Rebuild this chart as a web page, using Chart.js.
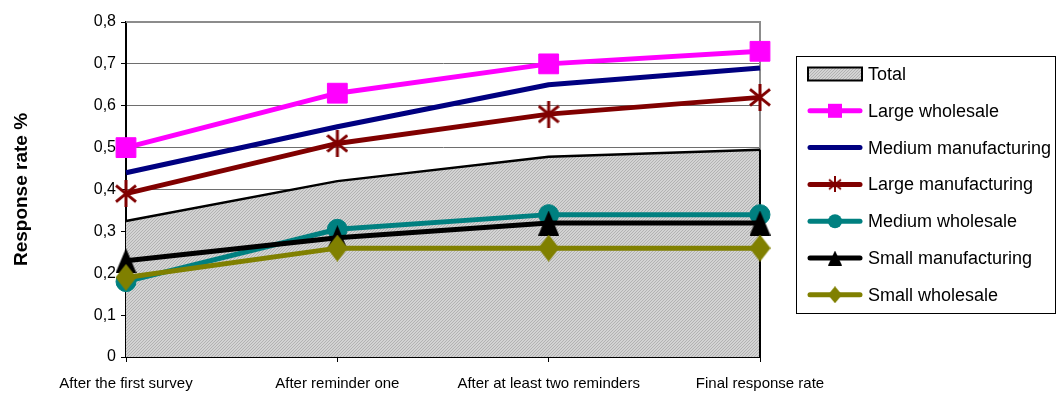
<!DOCTYPE html>
<html>
<head>
<meta charset="utf-8">
<script src="https://cdn.jsdelivr.net/npm/chart.js@4/dist/chart.umd.min.js"></script>
<style>
  html, body { margin: 0; padding: 0; background: #fff; }
  canvas { display: block; }
</style>
</head>
<body>
<canvas id="c" width="1056" height="394"></canvas>
<script>
// Survey stages on the x axis
const categories = ['After the first survey', 'After reminder one', 'After at least two reminders', 'Final response rate'];

// Cumulative response rates per group
const total               = [0.325, 0.42, 0.478, 0.495];
const largeWholesale      = [0.50, 0.63, 0.70, 0.73];
const mediumManufacturing = [0.44, 0.55, 0.65, 0.69];
const largeManufacturing  = [0.39, 0.51, 0.58, 0.62];
const mediumWholesale     = [0.18, 0.305, 0.34, 0.34];
const smallManufacturing  = [0.23, 0.285, 0.32, 0.32];
const smallWholesale      = [0.19, 0.26, 0.26, 0.26];

// Y axis
const yMin = 0, yMax = 0.8, yStep = 0.1;

const FONT = '"Liberation Sans", Arial, sans-serif';

// Fine grey dither used for the Total area
function grayPattern() {
  const c = document.createElement('canvas');
  c.width = 3; c.height = 3;
  const g = c.getContext('2d');
  g.fillStyle = '#d3d3d3';
  g.fillRect(0, 0, 3, 3);
  g.fillStyle = '#b2b2b2';
  for (let y = 0; y < 3; y++) for (let x = 0; x < 3; x++) if ((x + y) % 3 === 0) g.fillRect(x, y, 1, 1);
  return document.getElementById('c').getContext('2d').createPattern(c, 'repeat');
}

// Marker images: asterisk, tall triangle and tall diamond
function markerImage(kind, w, h, color, lw) {
  const c = document.createElement('canvas');
  c.width = w; c.height = h;
  const g = c.getContext('2d');
  g.fillStyle = color; g.strokeStyle = color;
  if (kind === 'asterisk') {
    g.lineWidth = lw || 3;
    g.beginPath();
    g.moveTo(w / 2, 0); g.lineTo(w / 2, h);
    g.moveTo(1, h * 0.2); g.lineTo(w - 1, h * 0.8);
    g.moveTo(1, h * 0.8); g.lineTo(w - 1, h * 0.2);
    g.stroke();
  } else if (kind === 'triangle') {
    g.beginPath();
    g.moveTo(w / 2, 0); g.lineTo(w, h); g.lineTo(0, h); g.closePath();
    g.fill();
  } else if (kind === 'diamond') {
    g.beginPath();
    g.moveTo(w / 2, 0); g.lineTo(w, h / 2); g.lineTo(w / 2, h); g.lineTo(0, h / 2); g.closePath();
    g.fill();
  }
  return c;
}

const COL = {
  largeWholesale: '#ff00ff',
  mediumManufacturing: '#000080',
  largeManufacturing: '#800000',
  mediumWholesale: '#008080',
  smallManufacturing: '#000000',
  smallWholesale: '#808000'
};

const fillPattern = grayPattern();
const starImg = markerImage('asterisk', 22, 27, COL.largeManufacturing, 3);
const triImg = markerImage('triangle', 21, 25, COL.smallManufacturing);
const diaImg = markerImage('diamond', 21, 27, COL.smallWholesale);

// Smaller versions for the legend
const legendMarks = {
  'Large wholesale': { type: 'rect', size: 14 },
  'Medium manufacturing': null,
  'Large manufacturing': { type: 'img', img: markerImage('asterisk', 14, 16, COL.largeManufacturing, 2) },
  'Medium wholesale': { type: 'circle', r: 7 },
  'Small manufacturing': { type: 'img', img: markerImage('triangle', 14, 15, COL.smallManufacturing) },
  'Small wholesale': { type: 'img', img: markerImage('diamond', 14, 17, COL.smallWholesale) }
};

function line(label, data, color, extra, order) {
  return Object.assign({
    label, data, borderColor: color, backgroundColor: color,
    borderWidth: 5, pointBorderWidth: 1, pointBorderColor: color, pointBackgroundColor: color,
    fill: false, tension: 0, order
  }, extra);
}

const datasets = [
  {
    label: 'Total', data: total, borderColor: '#000', borderWidth: 2.5,
    backgroundColor: fillPattern, fill: 'origin', pointRadius: 0, tension: 0, order: 10
  },
  line('Large wholesale', largeWholesale, COL.largeWholesale, { pointStyle: 'rect', pointRadius: 14 }, 6),
  line('Medium manufacturing', mediumManufacturing, COL.mediumManufacturing, { pointRadius: 0 }, 5),
  line('Large manufacturing', largeManufacturing, COL.largeManufacturing, { pointStyle: starImg, pointRadius: 12 }, 4),
  line('Medium wholesale', mediumWholesale, COL.mediumWholesale, { pointStyle: 'circle', pointRadius: 10 }, 3),
  line('Small manufacturing', smallManufacturing, COL.smallManufacturing, { pointStyle: triImg, pointRadius: 12 }, 2),
  line('Small wholesale', smallWholesale, COL.smallWholesale, { pointStyle: diaImg, pointRadius: 12 }, 1)
];

// Plot-area frame and the closing edge of the Total area
const framePlugin = {
  id: 'frame',
  beforeDatasetsDraw(chart) {
    const { ctx, chartArea: a } = chart;
    ctx.save();
    ctx.strokeStyle = '#8c8c8c';
    ctx.lineWidth = 2;
    ctx.beginPath();
    ctx.moveTo(a.left, a.top);
    ctx.lineTo(a.right, a.top);
    ctx.lineTo(a.right, a.bottom);
    ctx.stroke();
    ctx.restore();
  },
  afterDatasetDraw(chart, args) {
    if (args.index !== 0) return;
    const { ctx, chartArea: a, scales } = chart;
    const yTop = scales.y.getPixelForValue(total[total.length - 1]);
    ctx.save();
    ctx.strokeStyle = '#000';
    ctx.lineWidth = 2;
    ctx.beginPath();
    ctx.moveTo(a.right, yTop);
    ctx.lineTo(a.right, a.bottom);
    ctx.stroke();
    ctx.restore();
  }
};

// Boxed legend on the right
const boxLegend = {
  id: 'boxLegend',
  afterDraw(chart) {
    const ctx = chart.ctx;
    const bx = 796.5, by = 56.5, bw = 259, bh = 257;
    ctx.save();
    ctx.strokeStyle = '#000';
    ctx.lineWidth = 1;
    ctx.strokeRect(bx, by, bw, bh);
    const x0 = 808, x1 = 862, tx = 868;
    const rowY = i => 74 + i * 36.8;
    ctx.font = '18px ' + FONT;
    ctx.textBaseline = 'middle';
    ctx.textAlign = 'left';
    chart.data.datasets.forEach((ds, i) => {
      const y = rowY(i);
      if (i === 0) {
        ctx.fillStyle = fillPattern;
        ctx.fillRect(x0, y - 6.5, x1 - x0, 13);
        ctx.strokeStyle = '#000';
        ctx.lineWidth = 2;
        ctx.strokeRect(x0, y - 6.5, x1 - x0, 13);
      } else {
        ctx.strokeStyle = ds.borderColor;
        ctx.lineWidth = 5;
        ctx.lineCap = 'round';
        ctx.beginPath();
        ctx.moveTo(x0 + 2, y);
        ctx.lineTo(x1 - 2, y);
        ctx.stroke();
        ctx.lineCap = 'butt';
        const m = legendMarks[ds.label];
        const cx = (x0 + x1) / 2;
        ctx.fillStyle = ds.borderColor;
        if (m && m.type === 'rect') {
          ctx.fillRect(cx - m.size / 2, y - m.size / 2, m.size, m.size);
        } else if (m && m.type === 'circle') {
          ctx.beginPath();
          ctx.arc(cx, y, m.r, 0, Math.PI * 2);
          ctx.fill();
        } else if (m && m.type === 'img') {
          ctx.drawImage(m.img, cx - m.img.width / 2, y - m.img.height / 2);
        }
      }
      ctx.fillStyle = '#000';
      ctx.fillText(ds.label, tx, y + 1);
    });
    ctx.restore();
  }
};

new Chart(document.getElementById('c'), {
  type: 'line',
  data: { labels: categories, datasets },
  options: {
    responsive: false,
    devicePixelRatio: 1,
    animation: false,
    events: [],
    layout: { padding: { left: 0, right: 296, top: 22, bottom: 0 } },
    plugins: { legend: { display: false }, tooltip: { enabled: false } },
    elements: { line: { borderJoinStyle: 'round' } },
    scales: {
      x: {
        type: 'category',
        offset: false,
        grid: { display: true, drawOnChartArea: false, drawTicks: true, tickLength: 5, tickColor: '#000', tickWidth: 1 },
        border: { display: true, color: '#000', width: 2 },
        ticks: { color: '#000', font: { family: FONT, size: 15 }, padding: 13, maxRotation: 0, autoSkip: false },
        afterFit(s) { s.height = 37; }
      },
      y: {
        min: yMin, max: yMax,
        ticks: {
          stepSize: yStep, color: '#000', font: { family: FONT, size: 16 }, padding: 5,
          callback: v => (v === 0 ? '0' : v.toFixed(1).replace('.', ','))
        },
        grid: { color: '#6e6e6e', lineWidth: 1, tickLength: 5, tickColor: '#000', tickWidth: 1 },
        border: { color: '#000', width: 2 },
        title: {
          display: true, text: 'Response rate %', color: '#000',
          font: { family: FONT, size: 19, weight: 'bold' }, padding: { top: 10, bottom: 0 }
        },
        afterFit(s) { s.width = 126; }
      }
    }
  },
  plugins: [framePlugin, boxLegend]
});
</script>
</body>
</html>
